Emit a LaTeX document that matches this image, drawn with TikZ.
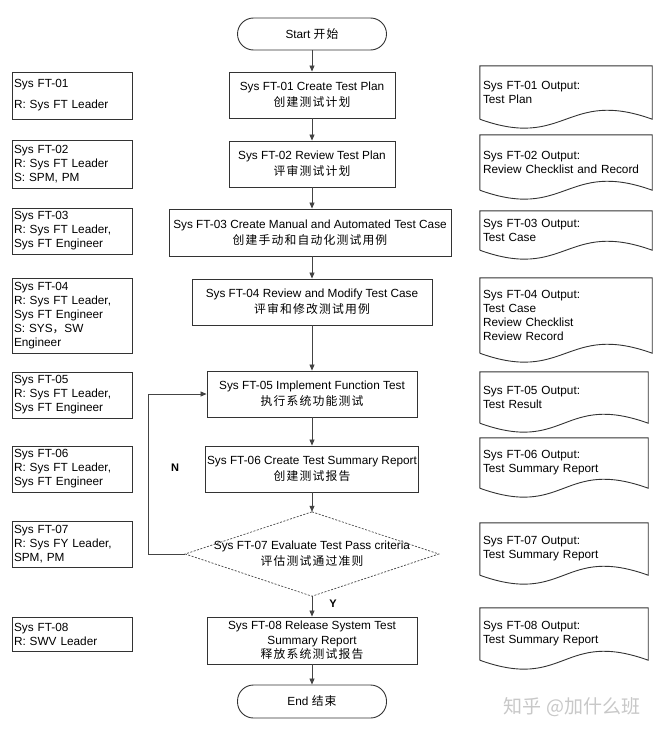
\documentclass[tikz,border=0pt]{standalone}
\usepackage{fontspec}
\setmainfont{Liberation Sans}
\newfontfamily\cjk[LetterSpace=10]{Noto Sans CJK SC}
\newfontfamily\cjkwm{Noto Sans CJK SC}
\usetikzlibrary{arrows.meta}
\definecolor{ln}{HTML}{333333}
\definecolor{cn}{HTML}{444444}
\definecolor{wm}{HTML}{C8C8C8}
\tikzset{
 proc/.style={draw=ln, line width=0.9pt, align=center, inner sep=2pt, font=\fontsize{11.8}{16}\selectfont},
 term/.style={proc, rounded corners=16pt},
 role/.style={draw=ln, line width=0.9pt, align=left, minimum width=120pt, text width=116pt, inner xsep=2pt, inner ysep=0pt, font=\fontsize{11.8}{14}\selectfont},
 docbox/.style={align=left, inner xsep=3pt, inner ysep=0pt, font=\fontsize{11.8}{14}\selectfont},
 docline/.style={draw=ln, line width=0.9pt},
 flow/.style={draw=cn, line width=0.8pt, -{Triangle[length=6pt,width=5pt]}},
 lbl/.style={font=\bfseries\fontsize{11}{13}\selectfont},
}
\begin{document}
\begin{tikzpicture}[x=1pt,y=-1pt]
\fill[white] (0,0) rectangle (660,736);
\useasboundingbox (0,0) rectangle (660,736);

% main column
\node[term, minimum width=149pt, minimum height=32pt] (start) at (312,34) {Start {\cjk 开始}};
\node[proc, minimum width=166pt, minimum height=46pt] (b1) at (312,95) {Sys FT-01 Create Test Plan\\{\cjk 创建测试计划}};
\node[proc, minimum width=166pt, minimum height=46pt] (b2) at (312,164) {Sys FT-02 Review Test Plan\\{\cjk 评审测试计划}};
\node[proc, minimum width=282pt, minimum height=47pt] (b3) at (310,232.5) {Sys FT-03 Create Manual and Automated Test Case\\{\cjk 创建手动和自动化测试用例}};
\node[proc, minimum width=240pt, minimum height=46pt] (b4) at (312,302) {Sys FT-04 Review and Modify Test Case\\{\cjk 评审和修改测试用例}};
\node[proc, minimum width=210pt, minimum height=46pt] (b5) at (312,394) {Sys FT-05 Implement Function Test\\{\cjk 执行系统功能测试}};
\node[proc, minimum width=210pt, minimum height=46pt] (b6) at (312,469) {Sys FT-06 Create Test Summary Report\\{\cjk 创建测试报告}};
\node[align=center, inner sep=0pt, minimum width=253pt, minimum height=84pt, font=\fontsize{11.8}{16}\selectfont] (b7) at (312,554) {Sys FT-07 Evaluate Test Pass criteria\\{\cjk 评估测试通过准则}};
\draw[draw=cn, line width=0.7pt, dash pattern=on 2pt off 1.5pt] (b7.north) -- (b7.east) -- (b7.south) -- (b7.west) -- cycle;
\node[proc, minimum width=210pt, minimum height=47pt, font=\fontsize{11.8}{14.5}\selectfont] (b8) at (312,640.5) {Sys FT-08 Release System Test\\Summary Report\\{\cjk 释放系统测试报告}};
\node[term, minimum width=149pt, minimum height=33pt] (end) at (312,701.5) {End {\cjk 结束}};

\draw[flow] (start) -- (b1);
\draw[flow] (b1) -- (b2);
\draw[flow] (b2.south) -- (b2.south |- b3.north);
\draw[flow] (b3.south -| b2.south) -- (b4);
\draw[flow] (b4) -- (b5);
\draw[flow] (b5) -- (b6);
\draw[flow] (b6) -- (b7.north);
\draw[flow] (b7.south) -- (b8);
\draw[flow] (b8) -- (end);
\draw[flow] (b7.west) -- ++(-37,0) |- (b5.west);
\node[lbl] (nlab) at (175,468) {N};
\node[lbl] (ylab) at (333,604) {Y};

% left role boxes
\node[role, minimum height=47pt] (l1) at (72,95.5) {Sys FT-01\\[7pt]R: Sys FT Leader};
\node[role, minimum height=48pt] (l2) at (72,164) {Sys FT-02\\R: Sys FT Leader\\S: SPM, PM};
\node[role, minimum height=46pt] (l3) at (72,231) {Sys FT-03\\R: Sys FT Leader,\\Sys FT Engineer};
\node[role, minimum height=75pt] (l4) at (72,315.5) {Sys FT-04\\R: Sys FT Leader,\\Sys FT Engineer\\S: SYS{\cjkwm ，}SW\\Engineer};
\node[role, minimum height=46pt] (l5) at (72,395) {Sys FT-05\\R: Sys FT Leader,\\Sys FT Engineer};
\node[role, minimum height=46pt] (l6) at (72,469) {Sys FT-06\\R: Sys FT Leader,\\Sys FT Engineer};
\node[role, minimum height=46pt] (l7) at (72,544) {Sys FT-07\\R: Sys FY Leader,\\SPM, PM};
\node[role, minimum height=34pt] (l8) at (72,634) {Sys FT-08\\R: SWV Leader};

% right document shapes
\node[docbox, text width=166pt, minimum height=53pt] (d1) at (566,92.5) {Sys FT-01 Output:\\Test Plan};
\node[docbox, text width=166pt, minimum height=55pt] (d2) at (566,162.5) {Sys FT-02 Output:\\Review Checklist and Record};
\node[docbox, text width=166pt, minimum height=39pt] (d3) at (566,230.5) {Sys FT-03 Output:\\Test Case};
\node[docbox, text width=166pt, minimum height=75pt] (d4) at (566,315.5) {Sys FT-04 Output:\\Test Case\\Review Checklist\\Review Record};
\node[docbox, text width=162pt, minimum height=51pt] (d5) at (564,397.5) {Sys FT-05 Output:\\Test Result};
\node[docbox, text width=162pt, minimum height=50pt] (d6) at (564,463) {Sys FT-06 Output:\\Test Summary Report};
\node[docbox, text width=162pt, minimum height=52pt] (d7) at (564,549) {Sys FT-07 Output:\\Test Summary Report};
\node[docbox, text width=162pt, minimum height=52pt] (d8) at (564,634) {Sys FT-08 Output:\\Test Summary Report};
\foreach \d in {d1,d2,d3,d4,d5,d6,d7,d8}{
  \draw[docline] (\d.south west) -- (\d.north west) -- (\d.north east) -- (\d.south east)
    .. controls +(-86,-31) and +(86,31) .. (\d.south west);
}

% watermark
\node[text=wm, font=\cjkwm\fontsize{19}{22}\selectfont] (wmk) at (572,707) {知乎 @加什么班};
\end{tikzpicture}
\end{document}
